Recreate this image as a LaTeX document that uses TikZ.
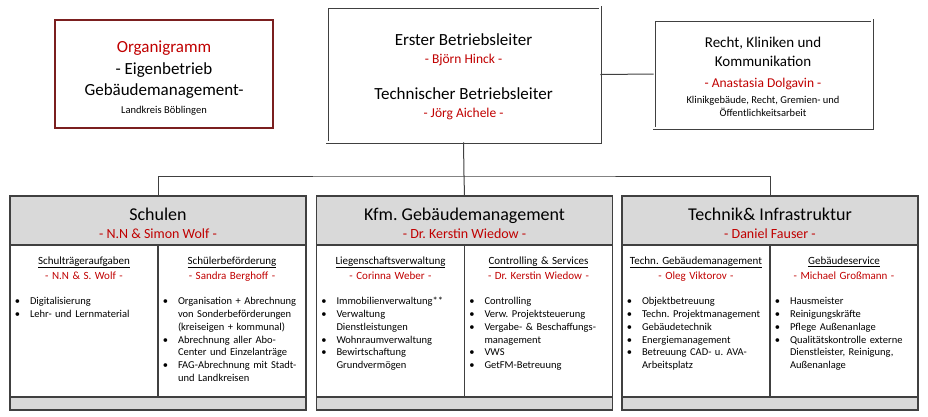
\documentclass[tikz,border=0pt]{standalone}
\usepackage{fontspec}
\setmainfont{Carlito}
\usepackage{enumitem}
\usetikzlibrary{positioning}
\definecolor{namered}{HTML}{C00000}
\definecolor{framered}{HTML}{7B1F1F}
\definecolor{headgray}{HTML}{D9D9D9}
\definecolor{linegray}{HTML}{404040}
\setlist[itemize]{label=\textbullet, leftmargin=17pt, labelsep=10pt, itemsep=0pt, topsep=0pt, parsep=0pt, partopsep=0pt}
\frenchspacing

\newcommand{\pname}[1]{{\color{namered}- #1 -}}
\newcommand{\unithead}[2]{{\centering\fontsize{11}{15}\selectfont\underline{#1}\\\pname{#2}\par}\vspace{13pt}}

\begin{document}
\begin{tikzpicture}[
      x=1pt, y=-1pt,
      titlebox/.style={draw=framered, line width=2.8pt, inner sep=0pt, minimum width=218pt, minimum height=108pt},
      frame/.style={draw=linegray, double=white, double distance=1.4pt, line width=0.8pt, inner sep=0pt},
      dept/.style={draw=linegray, line width=1.2pt, fill=headgray, minimum width=296pt, minimum height=49pt, inner sep=0pt},
      depttext/.style={align=center, inner sep=0pt, font=\fontsize{18}{18}\selectfont},
      boxtext/.style={align=center, inner sep=0pt},
      column/.style={draw=linegray, line width=1.2pt, minimum width=148pt, minimum height=152pt, inner sep=0pt},
      foot/.style={draw=linegray, line width=1.2pt, fill=headgray, minimum width=296pt, minimum height=13pt, inner sep=0pt},
      coltext/.style={anchor=north, text width=142pt, inner sep=0pt, align=left, font=\fontsize{10.5}{12.7}\selectfont},
      link/.style={draw=linegray, line width=1pt}
    ]
    \useasboundingbox (0,0) rectangle (928,416);

    % top row
    \node[titlebox] (title) at (164,74) {};
    \node[boxtext, font=\fontsize{17}{21}\selectfont] (title-t) at (164,78)
      {{\color{namered}Organigramm}\\[1pt]- Eigenbetrieb\\[0pt]Gebäudemanagement-\\[-3pt]{\fontsize{10.5}{13}\selectfont Landkreis Böblingen}};
    \node[frame, minimum width=273pt, minimum height=135pt] (lead) at (463.5,74.5) {};
    \node[boxtext, font=\fontsize{17}{20}\selectfont] (lead-t) at (463.5,77)
      {Erster Betriebsleiter\\[-2pt]{\fontsize{13.5}{16}\selectfont\pname{Björn Hinck}}\\[16pt]Technischer Betriebsleiter\\[-2pt]{\fontsize{13.5}{16}\selectfont\pname{Jörg Aichele}}};
    \node[frame, minimum width=218pt, minimum height=108pt] (legal) at (763,74) {};
    \node[boxtext, font=\fontsize{15}{19}\selectfont] (legal-t) at (763,77)
      {Recht, Kliniken und\\Kommunikation\\[2pt]{\fontsize{13.5}{16}\selectfont\pname{Anastasia Dolgavin}}\\[-3pt]{\fontsize{10.5}{13}\selectfont Klinikgebäude, Recht, Gremien- und}\\[-6pt]{\fontsize{10.5}{13}\selectfont Öffentlichkeitsarbeit}};

    % departments
    \node[dept] (schulen) at (158,220.5) {};
    \node[dept] (kfm) at (464.5,220.5) {};
    \node[dept] (technik) at (770,220.5) {};
    \node[depttext] (schulen-t) at (158,223) {Schulen\\{\fontsize{14}{17}\selectfont\pname{N.N \& Simon Wolf}}};
    \node[depttext] (kfm-t) at (464.5,223) {Kfm. Gebäudemanagement\\{\fontsize{14}{17}\selectfont\pname{Dr. Kerstin Wiedow}}};
    \node[depttext] (technik-t) at (770,223) {Technik\& Infrastruktur\\{\fontsize{14}{17}\selectfont\pname{Daniel Fauser}}};

    \node[column] (schulen-a) at (84,321) {};
    \node[column] (schulen-b) at (232,321) {};
    \node[column] (kfm-a) at (390.5,321) {};
    \node[column] (kfm-b) at (538.5,321) {};
    \node[column] (technik-a) at (696,321) {};
    \node[column] (technik-b) at (844,321) {};

    \node[foot] (schulen-f) at (158,403.5) {};
    \node[foot] (kfm-f) at (464.5,403.5) {};
    \node[foot] (technik-f) at (770,403.5) {};

    % column texts
    \node[coltext, below=12pt of schulen-a.north] (schulen-at) {\unithead{Schulträgeraufgaben}{N.N \& S. Wolf}
      \begin{itemize}
        \item Digitalisierung
        \item Lehr- und Lernmaterial
      \end{itemize}};
    \node[coltext, below=12pt of schulen-b.north] (schulen-bt) {\unithead{Schülerbeförderung}{Sandra Berghoff}
      \begin{itemize}
        \item Organisation + Abrechnung\\von Sonderbeförderungen\\(kreiseigen + kommunal)
        \item Abrechnung aller Abo-\\Center und Einzelanträge
        \item FAG-Abrechnung mit Stadt-\\und Landkreisen
      \end{itemize}};
    \node[coltext, below=12pt of kfm-a.north] (kfm-at) {\unithead{Liegenschaftsverwaltung}{Corinna Weber}
      \begin{itemize}
        \item Immobilienverwaltung**
        \item Verwaltung\\Dienstleistungen
        \item Wohnraumverwaltung
        \item Bewirtschaftung\\Grundvermögen
      \end{itemize}};
    \node[coltext, below=12pt of kfm-b.north] (kfm-bt) {\unithead{Controlling \& Services}{Dr. Kerstin Wiedow}
      \begin{itemize}
        \item Controlling
        \item Verw. Projektsteuerung
        \item Vergabe- \& Beschaffungs-\\management
        \item VWS
        \item GetFM-Betreuung
      \end{itemize}};
    \node[coltext, below=12pt of technik-a.north] (technik-at) {\unithead{Techn. Gebäudemanagement}{Oleg Viktorov}
      \begin{itemize}
        \item Objektbetreuung
        \item Techn. Projektmanagement
        \item Gebäudetechnik
        \item Energiemanagement
        \item Betreuung CAD- u. AVA-\\Arbeitsplatz
      \end{itemize}};
    \node[coltext, below=12pt of technik-b.north] (technik-bt) {\unithead{Gebäudeservice}{Michael Großmann}
      \begin{itemize}
        \item Hausmeister
        \item Reinigungskräfte
        \item Pflege Außenanlage
        \item Qualitätskontrolle externe\\Dienstleister, Reinigung,\\Außenanlage
      \end{itemize}};

    % connectors
    \coordinate (bar) at (464,176);
    \draw[link] (lead.east) -- (legal.west);
    \draw[link] (lead.south) -- (bar);
    \draw[link] (schulen.north) |- (bar) -| (technik.north);
    \draw[link] (bar) -- (kfm.north);
  \end{tikzpicture}
\end{document}
